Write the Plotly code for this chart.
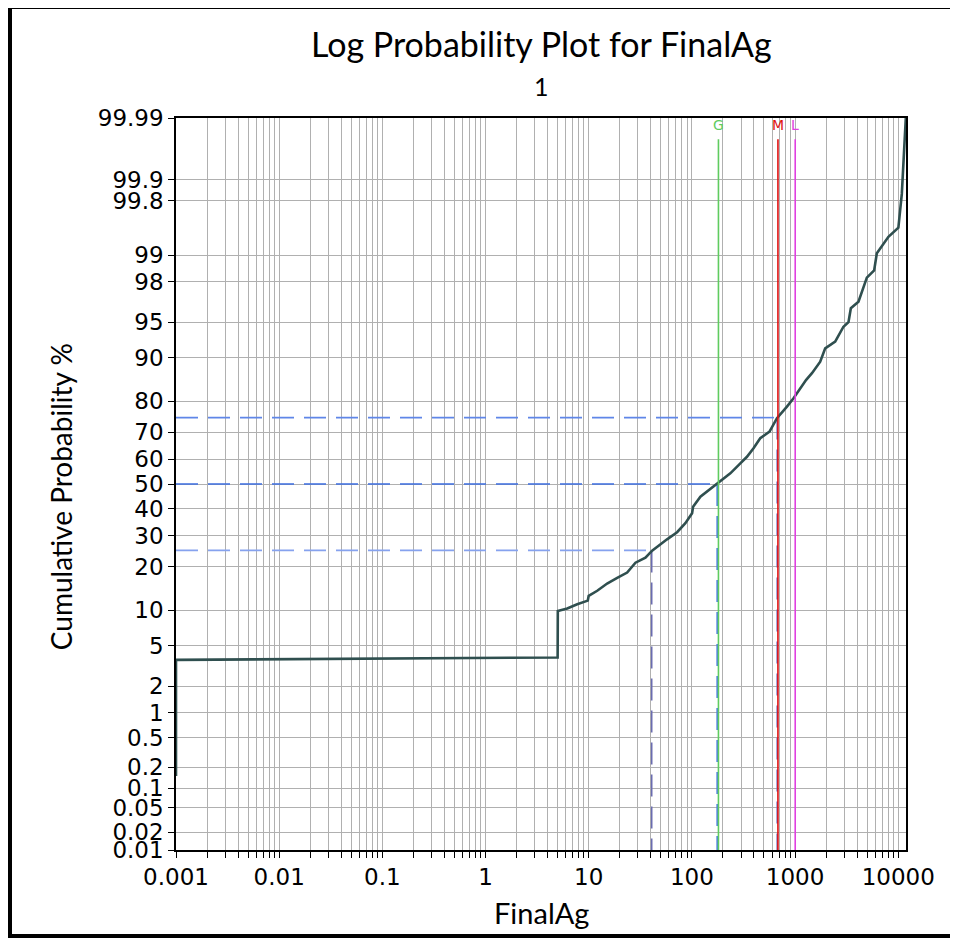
"""Log probability plot for FinalAg: log x axis, probit (normal quantile) y axis."""
import math
from statistics import NormalDist

import plotly.graph_objects as go

# cumulative curve
FINALAG = [0.001, 0.001, 5.0, 5.02, 6.19, 7.74, 9.8, 10.0, 12.1, 15.1, 18.9, 23.6,
           28.4, 35.5, 41.2, 46.0, 57.5, 71.9, 86.5, 100.5, 102.8, 121, 175, 236,
           295, 342, 396, 460, 566, 668, 835, 967, 1283, 1459, 1754, 1960, 2450,
           2946, 3296, 3475, 4120, 4446, 4966, 5845, 6210, 8040, 10040, 10840, 11850]
CUM_PCT = [0.15, 3.7, 3.9, 9.85, 10.3, 11.1, 11.8, 12.8, 13.9, 15.6, 17.0, 18.4,
           21.2, 22.7, 24.9, 26.2, 28.7, 31.2, 34.5, 38.3, 40.9, 44.9, 50.0, 54.3,
           58.3, 60.9, 64.2, 67.9, 70.3, 74.8, 78.4, 80.8, 85.5, 87.0, 89.3, 91.6,
           92.6, 94.5, 95.0, 96.3, 96.8, 97.5, 98.2, 98.5, 99.05, 99.4, 99.54, 99.84, 99.99]

# quartiles (percent, value)
QUART_PCT = [25, 50, 75]
QUART_VAL = [40.8, 176, 672]
QUART_COLORS = [('#86a2ee', '#6a6cb0'), ('#3d6de0', '#4a78e6'), ('#5f86e8', '#6a6fc0')]

# marker lines: geometric mean, mean, lognormal estimate
MARK_NAMES = ['G', 'M', 'L']
MARK_VALS = [181, 683, 1004]
MARK_COLORS = ['#5fcc5f', '#e01010', '#e040e0']

Y_TICKS = [0.01, 0.02, 0.05, 0.1, 0.2, 0.5, 1, 2, 5, 10, 20, 30, 40, 50,
           60, 70, 80, 90, 95, 98, 99, 99.8, 99.9, 99.99]
X_DECADES = [-3, -2, -1, 0, 1, 2, 3, 4]
X_MAX = 11900

ND = NormalDist()


def probit(pct):
    return ND.inv_cdf(pct / 100.0)


def fmt_pct(v):
    return f'{v:g}'


def fmt_dec(d):
    return f'{10.0 ** d:.{max(0, -d)}f}'


x_tickvals, x_ticktext = [], []
for d in X_DECADES:
    for k in range(1, 10):
        v = k * 10.0 ** d
        if v > X_MAX:
            break
        x_tickvals.append(v)
        x_ticktext.append(fmt_dec(d) if k == 1 else '')

y_lo, y_hi = probit(Y_TICKS[0]), probit(Y_TICKS[-1])

fig = go.Figure()

# quartile guides
for pct, val, (hc, vc) in zip(QUART_PCT, QUART_VAL, QUART_COLORS):
    z = probit(pct)
    fig.add_trace(go.Scatter(x=[FINALAG[0], val], y=[z, z], mode='lines',
                             line=dict(color=hc, width=1.6, dash='22px,10px'),
                             showlegend=False, hoverinfo='skip'))
    fig.add_trace(go.Scatter(x=[val, val], y=[z, y_lo], mode='lines',
                             line=dict(color=vc, width=1.6, dash='22px,10px'),
                             showlegend=False, hoverinfo='skip'))

shapes = []
annotations = []
for name, val, color in zip(MARK_NAMES, MARK_VALS, MARK_COLORS):
    shapes.append(dict(type='line', xref='x', yref='paper', x0=val, x1=val,
                       y0=0, y1=0.971, line=dict(color=color, width=1.6)))
    annotations.append(dict(text=name, x=math.log10(val), xref='x', y=0.9905, yref='paper',
                            xanchor='center', yanchor='middle', showarrow=False,
                            font=dict(size=14, color=color, family='DejaVu Sans')))

fig.add_trace(go.Scatter(
    x=FINALAG, y=[probit(p) for p in CUM_PCT], mode='lines',
    line=dict(color='#2f4f4f', width=2.6), showlegend=False,
    customdata=CUM_PCT, hovertemplate='%{x}<br>%{customdata}%<extra></extra>',
))

# outer frame
shapes.append(dict(type='rect', xref='paper', yref='paper',
                   x0=-0.2274, x1=1.0685, y0=-0.1175, y1=1.1516,
                   line=dict(color='black', width=4), layer='below'))

title_font = 'Lato, Noto Sans, sans-serif'
annotations += [
    dict(text='Log Probability Plot for FinalAg', x=0.5, y=1.1015, xref='paper', yref='paper',
         xanchor='center', yanchor='middle', showarrow=False,
         font=dict(size=34, color='black', family=title_font)),
    dict(text='1', x=0.5, y=1.0437, xref='paper', yref='paper',
         xanchor='center', yanchor='middle', showarrow=False,
         font=dict(size=25, color='black', family=title_font)),
    dict(text='FinalAg', x=0.5, y=-0.0847, xref='paper', yref='paper',
         xanchor='center', yanchor='middle', showarrow=False,
         font=dict(size=29, color='black', family=title_font)),
    dict(text='Cumulative Probability %', x=-0.1575, y=0.482, xref='paper', yref='paper',
         xanchor='center', yanchor='middle', textangle=-90, showarrow=False,
         font=dict(size=28, color='black', family=title_font)),
]

fig.update_layout(
    width=958, height=939,
    margin=dict(l=168, r=60, t=110, b=97),
    paper_bgcolor='white', plot_bgcolor='white',
    font=dict(family='DejaVu Sans', color='black', size=20),
    shapes=shapes, annotations=annotations,
    xaxis=dict(type='log', range=[math.log10(FINALAG[0]), math.log10(X_MAX)],
               tickvals=x_tickvals, ticktext=x_ticktext,
               showgrid=True, gridcolor='#b0b0b0', gridwidth=1,
               ticks='outside', ticklen=6, tickcolor='black',
               showline=True, linecolor='black', linewidth=1.5, mirror=True,
               zeroline=False, tickfont=dict(size=23)),
    yaxis=dict(range=[y_lo, y_hi],
               tickvals=[probit(p) for p in Y_TICKS], ticktext=[fmt_pct(p) for p in Y_TICKS],
               showgrid=True, gridcolor='#b0b0b0', gridwidth=1,
               ticks='outside', ticklen=6, tickcolor='black',
               showline=True, linecolor='black', linewidth=1.5, mirror=True,
               zeroline=False, tickfont=dict(size=23)),
)

fig.write_html('out.html')
